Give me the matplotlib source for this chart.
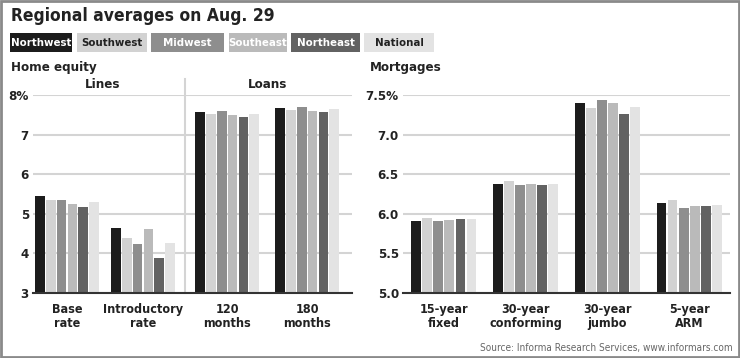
import matplotlib
matplotlib.use("Agg")
import matplotlib.pyplot as plt
from matplotlib.patches import Rectangle
import numpy as np

plt.rcParams["font.family"] = ["DejaVu Sans"]
plt.rcParams["font.stretch"] = "condensed"

regions = ["Northwest", "Southwest", "Midwest", "Southeast", "Northeast", "National"]
colors = ["#1c1c1c", "#d2d2d2", "#8e8e8e", "#bababa", "#626262", "#e3e3e3"]
label_colors = ["white", "#222222", "white", "white", "white", "#222222"]

equity_cats = ["Base\nrate", "Introductory\nrate", "120\nmonths", "180\nmonths"]
equity = {
    "Northwest": [5.45, 4.63, 7.56, 7.68],
    "Southwest": [5.35, 4.40, 7.52, 7.63],
    "Midwest":   [5.35, 4.23, 7.60, 7.69],
    "Southeast": [5.24, 4.62, 7.50, 7.59],
    "Northeast": [5.16, 3.88, 7.44, 7.58],
    "National":  [5.31, 4.26, 7.53, 7.64],
}

mortgage_cats = ["15-year\nfixed", "30-year\nconforming", "30-year\njumbo", "5-year\nARM"]
mortgage = {
    "Northwest": [5.91, 6.38, 7.40, 6.14],
    "Southwest": [5.945, 6.41, 7.33, 6.18],
    "Midwest":   [5.91, 6.36, 7.44, 6.07],
    "Southeast": [5.92, 6.38, 7.40, 6.10],
    "Northeast": [5.93, 6.36, 7.26, 6.10],
    "National":  [5.93, 6.38, 7.35, 6.11],
}

W, H = 740, 358
fig = plt.figure(figsize=(W / 100, H / 100), dpi=100)


def px(x, y):
    return x / W, 1 - y / H


def draw_bars(ax, cats, data, pos):
    step = 0.135
    for i, r in enumerate(regions):
        offs = (i - 2.5) * step
        ax.bar(pos + offs, data[r], width=0.12, color=colors[i], zorder=3)
    ax.set_xticks(pos, cats)
    ax.tick_params(axis="x", length=0, labelsize=9, pad=7, colors="#222222")
    ax.tick_params(axis="y", length=0, labelsize=9.5, pad=3, colors="#222222")
    ax.grid(axis="y", color="#d4d4d4", lw=1.5, zorder=0)
    for s in ["top", "right", "left"]:
        ax.spines[s].set_visible(False)
    ax.spines["bottom"].set_color("#333333")
    ax.spines["bottom"].set_linewidth(1.5)
    ax.spines["bottom"].set_zorder(5)
    for t in ax.get_xticklabels():
        t.set_fontweight("bold")
        t.set_linespacing(1.15)
    for t in ax.get_yticklabels():
        t.set_fontweight("bold")


# Home equity
ax1 = fig.add_axes([33 / W, 65 / H, 319 / W, 198 / H])
pos1 = np.array([0, 0.95, 2.0, 3.0])
draw_bars(ax1, equity_cats, equity, pos1)
ax1.set_ylim(3, 8)
ax1.set_xlim(-0.425, 3.56)
ax1.set_yticks([3, 4, 5, 6, 7, 8], ["3", "4", "5", "6", "7", "8%"])
ax1.axvline(1.475, color="#d4d4d4", lw=1.5, zorder=1, ymin=0, ymax=1.08, clip_on=False)

# Mortgages
ax2 = fig.add_axes([403 / W, 65 / H, 327 / W, 198 / H])
pos2 = np.arange(4)
draw_bars(ax2, mortgage_cats, mortgage, pos2)
ax2.set_ylim(5.0, 7.5)
ax2.set_xlim(-0.5, 3.5)
ax2.set_yticks([5.0, 5.5, 6.0, 6.5, 7.0, 7.5], ["5.0", "5.5", "6.0", "6.5", "7.0", "7.5%"])

# titles and labels
fig.text(*px(11, 16), "Regional averages on Aug. 29", fontsize=12.5, fontweight="bold",
         color="#222222", va="center", ha="left")
fig.text(*px(11, 67), "Home equity", fontsize=9.5, fontweight="bold", color="#222222", va="center")
fig.text(*px(370, 67), "Mortgages", fontsize=9.5, fontweight="bold", color="#222222", va="center")
fig.text(*px(103, 84), "Lines", fontsize=9.5, fontweight="bold", color="#222222", va="center", ha="center")
fig.text(*px(268, 84), "Loans", fontsize=9.5, fontweight="bold", color="#222222", va="center", ha="center")
fig.text(*px(733, 348), "Source: Informa Research Services, www.informars.com", fontsize=7.2,
         color="#666666", va="center", ha="right")

# legend boxes
box_x = [10, 77, 151, 229, 291, 364]
box_w = [62, 70, 73, 58, 69, 70]
for i, r in enumerate(regions):
    x0, y0 = px(box_x[i], 52)
    fig.patches.append(Rectangle((x0, y0), box_w[i] / W, 19 / H, transform=fig.transFigure,
                                 facecolor=colors[i], edgecolor="none"))
    fig.text(*px(box_x[i] + box_w[i] / 2, 42.5), r, fontsize=8.2, fontweight="bold",
             color=label_colors[i], ha="center", va="center")

# frame
fig.patches.append(Rectangle((0.002, 0.003), 0.996, 0.994, transform=fig.transFigure,
                             facecolor="none", edgecolor="#8a8a8a", lw=2))

fig.savefig("out.png", dpi=100)
